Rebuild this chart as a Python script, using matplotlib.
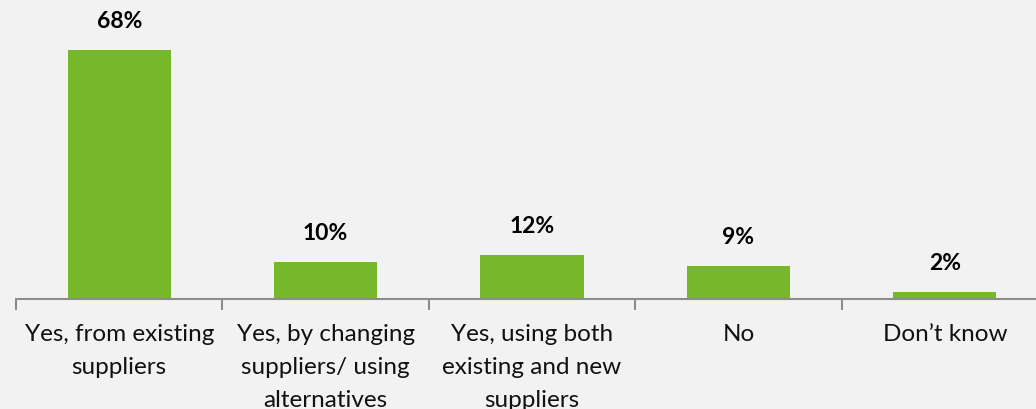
import matplotlib.pyplot as plt
from matplotlib.ticker import FixedLocator

categories = [
    "Yes, from existing\nsuppliers",
    "Yes, by changing\nsuppliers/ using\nalternatives",
    "Yes, using both\nexisting and new\nsuppliers",
    "No",
    "Don\u2019t know",
]
values = [68, 10, 12, 9, 2]

bg = "#F2F2F2"
green = "#76B82A"
axis_grey = "#8C8C8C"

plt.rcParams["font.family"] = ["Lato", "DejaVu Sans"]

fig = plt.figure(figsize=(10.36, 4.09), dpi=100, facecolor=bg)
W, H = 1036, 409
ax = fig.add_axes([16 / W, (H - 299) / H, (1048 - 16) / W, 299 / H])
ax.set_facecolor(bg)

x = list(range(len(values)))
bars = ax.bar(x, values, width=0.5, color=green, zorder=2)

for xi, v in zip(x, values):
    ax.annotate(f"{v}%", (xi, v), xytext=(0, 13), textcoords="offset points",
                ha="center", va="bottom", fontsize=16.5, fontweight="bold",
                color="black")

ax.set_xlim(-0.5, len(values) - 0.5)
ax.set_ylim(0, 299 / 3.66)

for side in ("top", "right", "left"):
    ax.spines[side].set_visible(False)
ax.spines["bottom"].set_color(axis_grey)
ax.spines["bottom"].set_linewidth(1.5)

ax.set_yticks([])
ax.set_xticks(x)
ax.set_xticklabels(categories, fontsize=17.5, color="#111111", linespacing=1.72)
ax.tick_params(axis="x", which="major", length=0, pad=18)
ax.xaxis.set_minor_locator(FixedLocator([i - 0.5 for i in range(len(values) + 1)]))
ax.tick_params(axis="x", which="minor", length=8, width=1.5, color=axis_grey)

fig.savefig("out.png", dpi=100, facecolor=bg)
